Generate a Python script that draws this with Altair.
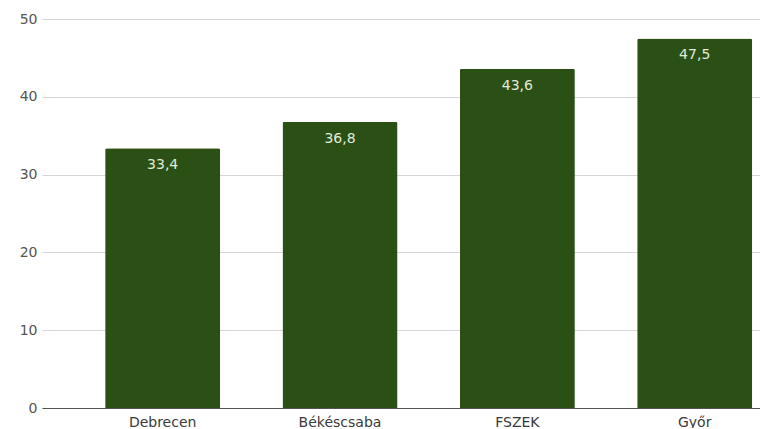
import altair as alt
import pandas as pd

categories = ["Debrecen", "Békéscsaba", "FSZEK", "Győr"]
values = [33.4, 36.8, 43.6, 47.5]
labels = ["33,4", "36,8", "43,6", "47,5"]

df = pd.DataFrame({"city": categories, "value": values, "label": labels})

FONT = "DejaVu Sans"
BAR = "#2b5016"

x = alt.X("city:N", sort=categories, title=None,
          scale=alt.Scale(paddingInner=0.3515, paddingOuter=0.2, align=0.89),
          axis=alt.Axis(labelAngle=0, ticks=False, domain=True, domainColor="#555555",
                        labelFont=FONT, labelFontSize=14, labelColor="#3a3a3a",
                        labelPadding=7, domainWidth=1))
y = alt.Y("value:Q", title=None,
          scale=alt.Scale(domain=[0, 50], nice=False),
          axis=alt.Axis(values=[0, 10, 20, 30, 40, 50], ticks=False, domain=False,
                        grid=True, gridColor="#d6d6d6", labelFont=FONT, labelFontSize=14,
                        labelColor="#555555", labelPadding=5))

bars = alt.Chart(df).mark_bar(color=BAR, cornerRadiusTopLeft=2, cornerRadiusTopRight=2).encode(x=x, y=y)
text = alt.Chart(df).mark_text(color="#e2ebd8", font=FONT, fontSize=14, baseline="middle", dy=17).encode(
    x=alt.X("city:N", sort=categories), y="value:Q", text="label:N")

chart = alt.layer(bars, text).properties(
    width=718, height=389,
    autosize=alt.AutoSizeParams(type="none"),
    padding={"left": 34, "top": 11, "right": 0, "bottom": 20},
).configure_view(stroke=None).configure_axisX(grid=False)

chart.save("out.html", embed_options={"renderer": "svg", "actions": False})
